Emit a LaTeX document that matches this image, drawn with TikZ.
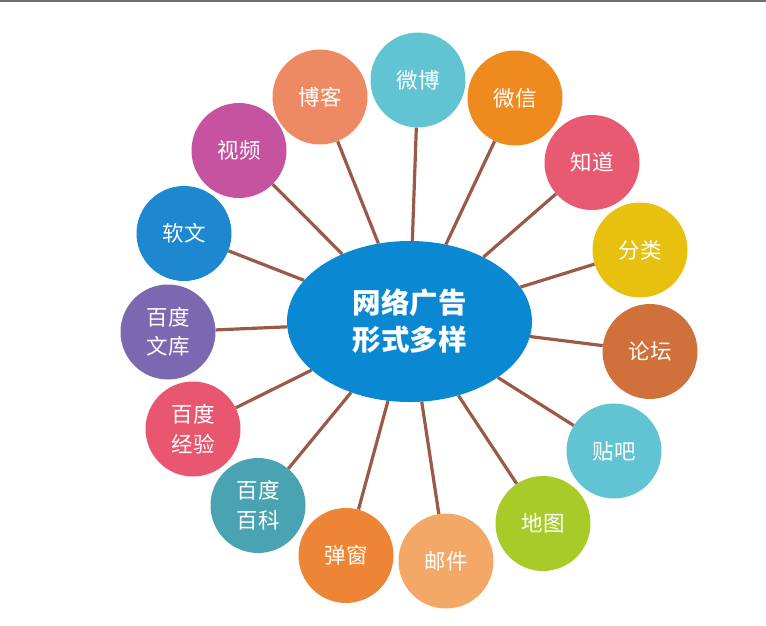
\documentclass[tikz,border=0pt]{standalone}
\usepackage{fontspec}
\setmainfont{Noto Sans CJK SC}
\usetikzlibrary{shapes.geometric}
\definecolor{topc}{HTML}{6E6E6E}
\definecolor{hubc}{HTML}{0A88D2}
\definecolor{linkc}{HTML}{9B5A48}
\definecolor{cWeibo}{HTML}{62C3D2}
\definecolor{cBoke}{HTML}{EE8A63}
\definecolor{cWeixin}{HTML}{EE8A1E}
\definecolor{cShipin}{HTML}{C653A0}
\definecolor{cZhidao}{HTML}{E85A72}
\definecolor{cRuanwen}{HTML}{1D88D0}
\definecolor{cFenlei}{HTML}{E7C010}
\definecolor{cWenku}{HTML}{7A68B0}
\definecolor{cLuntan}{HTML}{D0703A}
\definecolor{cJingyan}{HTML}{E85670}
\definecolor{cTieba}{HTML}{62C3D2}
\definecolor{cBaike}{HTML}{4AA3B2}
\definecolor{cDitu}{HTML}{A8CB2A}
\definecolor{cTanchuang}{HTML}{EE8436}
\definecolor{cYoujian}{HTML}{F4A867}
\begin{document}
\begin{tikzpicture}[x=1pt,y=-1pt,
  bub/.style={circle, minimum size=95pt, inner sep=0pt, text=white,
    font=\fontsize{21.5}{29.5}\selectfont, align=center},
  link/.style={draw=linkc, line width=3.2pt}]
\useasboundingbox (0,0) rectangle (766,625);
\fill[topc] (0,0) rectangle (766,2);
\node[ellipse, fill=hubc, minimum width=245pt, minimum height=161pt, inner sep=0pt,
  text=white, align=center, font=\fontsize{28.5}{37}\selectfont\bfseries] (hub) at (409.5,321.5) {网络广告\\形式多样};
\node[bub, fill=cWeibo] (weibo) at (418,80) {微博};
\node[bub, fill=cBoke] (boke) at (320,97) {博客};
\node[bub, fill=cWeixin] (weixin) at (515,98) {微信};
\node[bub, fill=cShipin] (shipin) at (239,150.5) {视频};
\node[bub, fill=cZhidao] (zhidao) at (592,162.5) {知道};
\node[bub, fill=cRuanwen] (ruanwen) at (184,233.5) {软文};
\node[bub, fill=cFenlei] (fenlei) at (640,250) {分类};
\node[bub, fill=cWenku] (wenku) at (168,332) {百度\\文库};
\node[bub, fill=cLuntan] (luntan) at (650,351.5) {论坛};
\node[bub, fill=cJingyan] (jingyan) at (193,429) {百度\\经验};
\node[bub, fill=cTieba] (tieba) at (614,451) {贴吧};
\node[bub, fill=cBaike] (baike) at (258,505.5) {百度\\百科};
\node[bub, fill=cDitu] (ditu) at (543,523.5) {地图};
\node[bub, fill=cTanchuang] (tanchuang) at (346,555.5) {弹窗};
\node[bub, fill=cYoujian] (youjian) at (446,561) {邮件};
\foreach \n in {weibo,boke,weixin,shipin,zhidao,ruanwen,fenlei,wenku,luntan,jingyan,tieba,baike,ditu,tanchuang,youjian}
  \draw[link] (hub) -- (\n);
\end{tikzpicture}
\end{document}
